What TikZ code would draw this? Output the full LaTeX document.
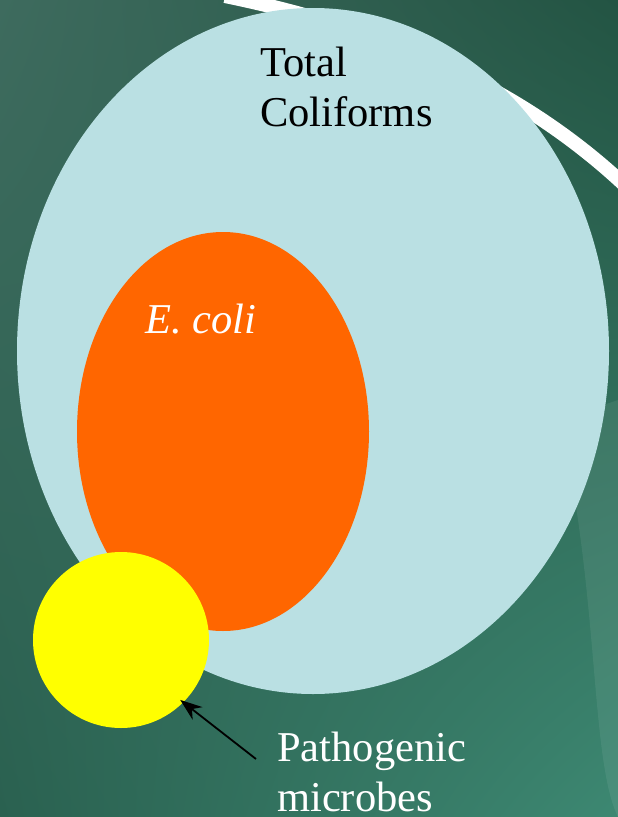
\documentclass[tikz,border=0pt]{standalone}
\usepackage{fontspec}
\setmainfont{Liberation Serif}
\usetikzlibrary{shapes.geometric,arrows.meta,shadings}
\definecolor{bgA}{HTML}{3E6B5E}
\definecolor{bgB}{HTML}{235443}
\definecolor{bgC}{HTML}{2A6150}
\definecolor{bgD}{HTML}{3D8872}
\definecolor{lblue}{HTML}{BAE0E3}
\definecolor{orng}{HTML}{FF6600}
\definecolor{yell}{HTML}{FFFF00}
\tikzset{
  blob/.style={ellipse, inner sep=0pt, draw=none},
  lbl/.style={inner sep=0pt, anchor=base west, align=left, font=\fontsize{42.5}{50}\selectfont},
}
\begin{document}
\begin{tikzpicture}[x=1pt,y=-1pt]
\useasboundingbox (0,0) rectangle (618,817);
% background
\shade[upper left=bgA, upper right=bgB, lower left=bgC, lower right=bgD] (0,0) rectangle (618,817);
\fill[white, opacity=0.07] (560,420) .. controls (600,600) and (590,760) .. (618,817) -- (618,400) -- cycle;
\draw[white, line width=14pt] (225,-4) .. controls (390,30) and (530,90) .. (640,200);
% sets
\node[blob, fill=lblue, minimum width=592pt, minimum height=686pt] (tc) at (313,351) {};
\node[blob, fill=orng, minimum width=292pt, minimum height=399pt] (ec) at (223,431.5) {};
\node[blob, fill=yell, minimum width=176pt, minimum height=176pt] (pm) at (121,640) {};
% labels
\node[lbl, text=black] (tcl) at (260,126) {Total\\Coliforms};
\node[lbl, text=white] (ecl) at (145,333) {\itshape E. coli};
\node[lbl, text=white] (pml) at (277,811) {Pathogenic\\microbes};
\coordinate (as) at (256,759);
\draw[-{Stealth[length=22pt,width=16pt]}, line width=1.8pt, black, shorten >=-4pt] (as) -- (pm.-45);
\end{tikzpicture}
\end{document}
